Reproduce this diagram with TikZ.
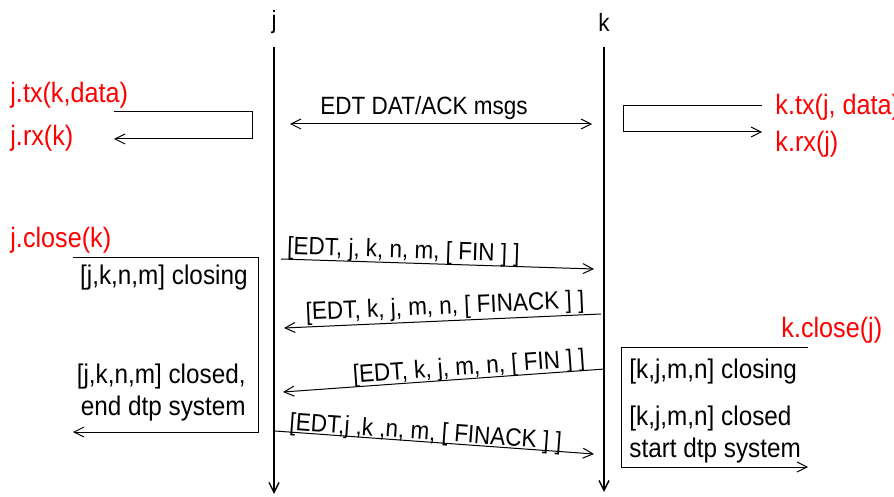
\documentclass[tikz,border=0pt]{standalone}
\usepackage{fontspec}
\setmainfont{Liberation Sans}[FakeStretch=0.9]
\usepackage{xcolor}
\usetikzlibrary{arrows.meta}

\begin{document}
\begin{tikzpicture}[x=0.5pt,y=-0.5pt,font=\fontsize{12.5}{15}\selectfont,
    msg/.style={-{Straight Barb[length=5pt,width=5pt]},line width=.5pt},
    life/.style={-{Straight Barb[length=5pt,width=5pt]},line width=.7pt},
    call/.style={text=red,font=\fontsize{14}{16}\selectfont,inner sep=0pt,anchor=base west},
    state/.style={font=\fontsize{13.5}{16}\selectfont,inner sep=0pt},
    msglbl/.style={sloped,anchor=base,inner sep=0pt}]
      \useasboundingbox (0,0) rectangle (894,497);
      % lifelines
      \node (j) at (274,22) {j};
      \node (k) at (604,22) {k};
      \coordinate (jtop) at (274,47); \coordinate (jend) at (274,494);
      \coordinate (ktop) at (604,47); \coordinate (kend) at (604,492);
      \draw[life] (jtop) -- (jend);
      \draw[life] (ktop) -- (kend);
      % data transfer
      \node[call] (jtx) at (10,103) {j.tx(k,data)};
      \node[call] (jrx) at (10,146) {j.rx(k)};
      \node[call] (ktx) at (775,115) {k.tx(j, data)};
      \node[call] (krx) at (775,152) {k.rx(j)};
      \coordinate (jl1) at (114,112); \coordinate (jl2) at (114,139);
      \coordinate (kl1) at (762,106); \coordinate (kl2) at (762,132);
      \draw[msg] (jl1) -- (252,112) -- (252,139) -- (jl2);
      \draw[msg] (kl1) -- (623,106) -- (623,132) -- (kl2);
      \coordinate (d1) at (290,124); \coordinate (d2) at (592,124);
      \draw[msg,{Straight Barb[length=5pt,width=5pt]}-{Straight Barb[length=5pt,width=5pt]}] (d1) -- (d2);
      \node[anchor=base,inner sep=0pt] (dat) at (424,115) {EDT DAT/ACK msgs};
      % closing
      \node[call] (jclose) at (10,248) {j.close(k)};
      \node[call] (kclose) at (781,337) {k.close(j)};
      \coordinate (jb1) at (73,258); \coordinate (jb2) at (73,432);
      \draw[msg] (jb1) -- (258,258) -- (258,432) -- (jb2);
      \node[state,anchor=base east] (jclosing) at (248,285) {[j,k,n,m] closing};
      \node[state,anchor=base east,align=right] (jclosed) at (246,415)
        {[j,k,n,m] closed,\\end dtp system};
      \coordinate (kb1) at (808,347); \coordinate (kb2) at (808,467);
      \draw[msg] (kb1) -- (621,347) -- (621,467) -- (kb2);
      \node[state,anchor=base west] (kclosing) at (629,379) {[k,j,m,n] closing};
      \node[state,anchor=base west,align=left] (kclosed) at (629,457)
        {[k,j,m,n] closed\\start dtp system};
      % FIN handshake
      \coordinate (m1a) at (281,259); \coordinate (m1b) at (594,269);
      \coordinate (m2a) at (601,314); \coordinate (m2b) at (284,328);
      \coordinate (m3a) at (605,369); \coordinate (m3b) at (283,392);
      \coordinate (m4a) at (275,431); \coordinate (m4b) at (594,454);
      \draw[msg] (m1a) -- (m1b) node[msglbl,pos=.39,yshift=2.5pt] {[EDT, j, k, n, m, [ FIN ] ]};
      \draw[msg] (m2a) -- (m2b) node[msglbl,pos=.49,yshift=3.4pt] {[EDT, k, j, m, n, [ FINACK ] ]};
      \draw[msg] (m3a) -- (m3b) node[msglbl,pos=.42,yshift=2pt] {[EDT, k, j, m, n, [ FIN ] ]};
      \draw[msg] (m4a) -- (m4b) node[msglbl,pos=.47,yshift=1pt] {[EDT,j ,k ,n, m, [ FINACK ] ]};
    \end{tikzpicture}
\end{document}
